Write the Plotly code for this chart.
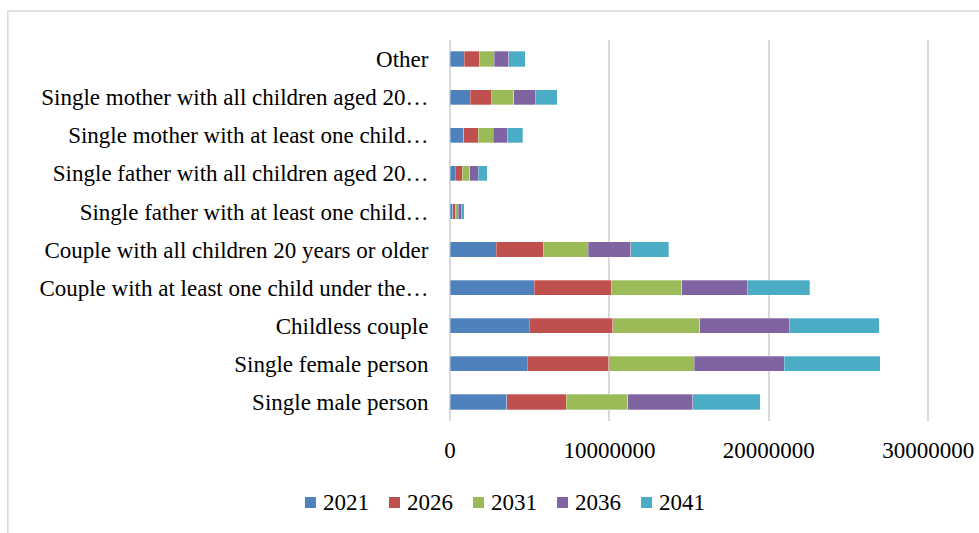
import plotly.graph_objects as go

# Household types, listed bottom-to-top as they appear on the category axis
household_types = [
    "Single male person",
    "Single female person",
    "Childless couple",
    "Couple with at least one child under the…",
    "Couple with all children 20 years or older",
    "Single father with at least one child…",
    "Single father with all children aged 20…",
    "Single mother with at least one child…",
    "Single mother with all children aged 20…",
    "Other",
]

years = ["2021", "2026", "2031", "2036", "2041"]

v2021 = [3560000, 4860000, 4980000, 5280000, 2910000, 170000, 330000, 860000, 1280000, 880000]
v2026 = [3720000, 5090000, 5240000, 4820000, 2930000, 160000, 440000, 920000, 1340000, 940000]
v2031 = [3880000, 5380000, 5460000, 4430000, 2830000, 190000, 480000, 920000, 1380000, 940000]
v2036 = [4060000, 5650000, 5610000, 4110000, 2660000, 190000, 520000, 920000, 1360000, 940000]
v2041 = [4230000, 6010000, 5650000, 3930000, 2390000, 190000, 570000, 940000, 1360000, 1020000]

series = [v2021, v2026, v2031, v2036, v2041]
colors = ["#4F81BD", "#C0504D", "#9BBB59", "#8064A2", "#4BACC6"]

FONT = "Liberation Serif, Times New Roman, serif"
X_MAX = 30300000

fig = go.Figure()
for year, vals, col in zip(years, series, colors):
    fig.add_trace(go.Bar(
        y=household_types,
        x=vals,
        name=year,
        orientation="h",
        showlegend=False,
        marker=dict(color=col, line=dict(color="rgba(255,255,255,0.6)", width=0.5)),
    ))

# plot area spans x = 450 px (value 0) to 928 px (value 30,000,000)
px_per_unit = (928 - 450) / 30000000
plot_right = 450 + X_MAX * px_per_unit
plot_w = plot_right - 450

fig.update_layout(
    barmode="stack",
    bargap=0.6,
    width=979,
    height=533,
    autosize=False,
    margin=dict(l=450, r=979 - plot_right, t=40, b=112, autoexpand=False),
    paper_bgcolor="white",
    plot_bgcolor="white",
    font=dict(family=FONT, size=23, color="black"),
    xaxis=dict(
        range=[0, X_MAX],
        tickmode="array",
        tickvals=[0, 10000000, 20000000, 30000000],
        ticktext=["0", "10000000", "20000000", "30000000"],
        showgrid=True,
        gridcolor="#d9d9d9",
        gridwidth=2,
        zeroline=True,
        zerolinecolor="#d9d9d9",
        zerolinewidth=2,
        showline=False,
        ticks="outside",
        ticklen=8,
        tickcolor="rgba(0,0,0,0)",
        automargin=False,
        tickangle=0,
        tickfont=dict(family=FONT, size=23, color="black"),
    ),
    yaxis=dict(
        categoryorder="array",
        categoryarray=household_types,
        showgrid=False,
        showline=False,
        ticks="outside",
        ticklen=16,
        tickcolor="rgba(0,0,0,0)",
        automargin=False,
        tickfont=dict(family=FONT, size=23, color="black"),
    ),
    showlegend=False,
)


def px_x(x):
    return (x - 450) / plot_w


def px_y(y):
    return (421 - y) / 381


# Outer chart-area border
fig.add_shape(
    type="rect",
    xref="paper", yref="paper",
    x0=px_x(8), x1=px_x(1100),
    y0=px_y(700), y1=px_y(11),
    line=dict(color="#d9d9d9", width=1.5),
    fillcolor="rgba(0,0,0,0)",
    layer="below",
)

# Legend: colour swatch followed by the year
for i, (year, col) in enumerate(zip(years, colors)):
    left = 305 + 84 * i
    fig.add_shape(
        type="rect",
        xref="paper", yref="paper",
        x0=px_x(left), x1=px_x(left + 11),
        y0=px_y(508), y1=px_y(497),
        line=dict(width=0),
        fillcolor=col,
    )
    fig.add_annotation(
        xref="paper", yref="paper",
        x=px_x(left + 16), y=px_y(502.5),
        xanchor="left", yanchor="middle",
        text=year, showarrow=False,
        font=dict(family=FONT, size=23, color="black"),
    )

fig.write_html("out.html")
